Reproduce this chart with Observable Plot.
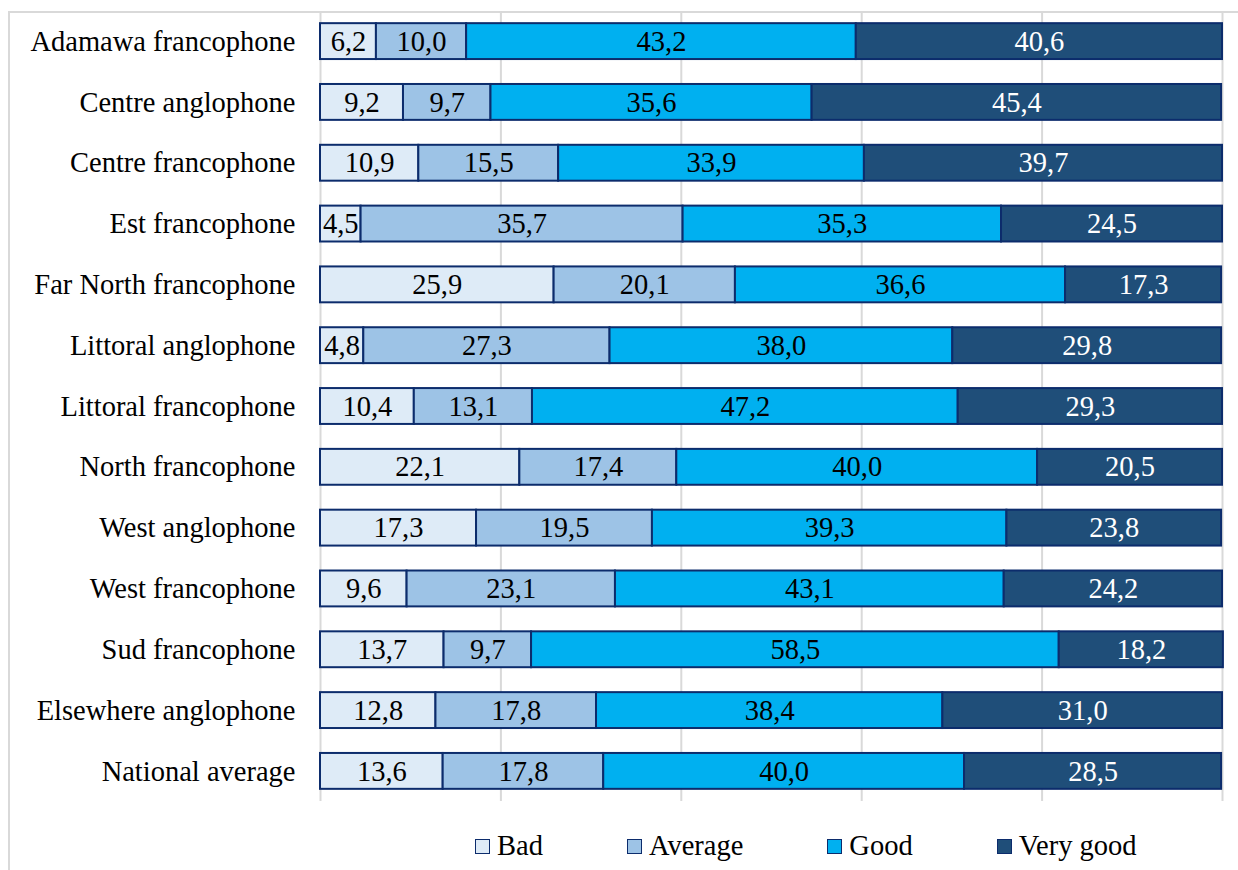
<!DOCTYPE html>
<html>
<head>
<meta charset="utf-8">
<script src="https://cdn.jsdelivr.net/npm/d3@7"></script>
<script src="https://cdn.jsdelivr.net/npm/@observablehq/plot@0.6"></script>
<style>
  html, body { margin: 0; padding: 0; background: #fff; }
  body { width: 1238px; height: 870px; position: relative; overflow: hidden; font-family: "Liberation Serif", "Times New Roman", serif; }
  #frame { position: absolute; left: 8px; top: 11px; width: 1400px; height: 1000px; border-left: 2px solid #d9d9d9; border-top: 2px solid #d9d9d9; }
  #chart { position: absolute; left: 0; top: 0; }
  #legend { position: absolute; left: 475px; top: 830px; display: flex; gap: 84px; align-items: center; font-size: 28.5px; color: #000; }
  .item { display: flex; align-items: center; gap: 7px; }
  .sw { width: 13px; height: 13px; border: 1.5px solid #0c2c6c; }
</style>
</head>
<body>
<div id="frame"></div>
<div id="chart"></div>
<div id="legend"></div>
<script>
const regions = [
  "Adamawa francophone", "Centre anglophone", "Centre francophone", "Est francophone",
  "Far North francophone", "Littoral anglophone", "Littoral francophone", "North francophone",
  "West anglophone", "West francophone", "Sud francophone", "Elsewhere anglophone", "National average"
];
const categories = ["Bad", "Average", "Good", "Very good"];
const colors = ["#deebf7", "#9dc3e6", "#00b0f0", "#1f4e79"];
const labelColors = ["#000", "#000", "#000", "#fff"];
const bad      = [6.2, 9.2, 10.9, 4.5, 25.9, 4.8, 10.4, 22.1, 17.3, 9.6, 13.7, 12.8, 13.6];
const average  = [10.0, 9.7, 15.5, 35.7, 20.1, 27.3, 13.1, 17.4, 19.5, 23.1, 9.7, 17.8, 17.8];
const good     = [43.2, 35.6, 33.9, 35.3, 36.6, 38.0, 47.2, 40.0, 39.3, 43.1, 58.5, 38.4, 40.0];
const veryGood = [40.6, 45.4, 39.7, 24.5, 17.3, 29.8, 29.3, 20.5, 23.8, 24.2, 18.2, 31.0, 28.5];
const gridTicks = [0, 20, 40, 60, 80, 100];

const series = [bad, average, good, veryGood];
const data = [];
regions.forEach((r, i) => {
  categories.forEach((c, j) => {
    data.push({region: r, category: c, value: series[j][i]});
  });
});
const fmt = v => v.toFixed(1).replace(".", ",");

const chart = Plot.plot({
  width: 1238,
  height: 810,
  marginLeft: 320,
  marginRight: 16,
  marginTop: 11,
  marginBottom: 9,
  style: {fontFamily: "Liberation Serif, Times New Roman, serif", fontSize: "28.5px", background: "transparent", color: "#000"},
  x: {domain: [0, 100], axis: null},
  y: {domain: regions, paddingInner: 0.41, paddingOuter: 0.2, round: false, label: null},
  color: {domain: categories, range: colors},
  marks: [
    Plot.ruleX(gridTicks, {stroke: "#d9d9d9", strokeWidth: 2}),
    Plot.barX(data, Plot.stackX({
      x: "value", y: "region", z: "category", order: categories,
      fill: "category", stroke: "#0c2c6c", strokeWidth: 2
    })),
    Plot.text(data, Plot.stackX({
      x: "value", y: "region", z: "category", order: categories,
      text: d => fmt(d.value),
      fill: d => labelColors[categories.indexOf(d.category)],
      fontSize: 28.5
    })),
    Plot.axisY({tickSize: 0, tickPadding: 25, fontSize: 28.5, label: null, fill: "#000"})
  ]
});
document.getElementById("chart").appendChild(chart);

const legend = document.getElementById("legend");
categories.forEach((c, j) => {
  const it = document.createElement("div");
  it.className = "item";
  const sw = document.createElement("div");
  sw.className = "sw";
  sw.style.background = colors[j];
  const t = document.createElement("span");
  t.textContent = c;
  it.appendChild(sw);
  it.appendChild(t);
  legend.appendChild(it);
});
</script>
</body>
</html>
